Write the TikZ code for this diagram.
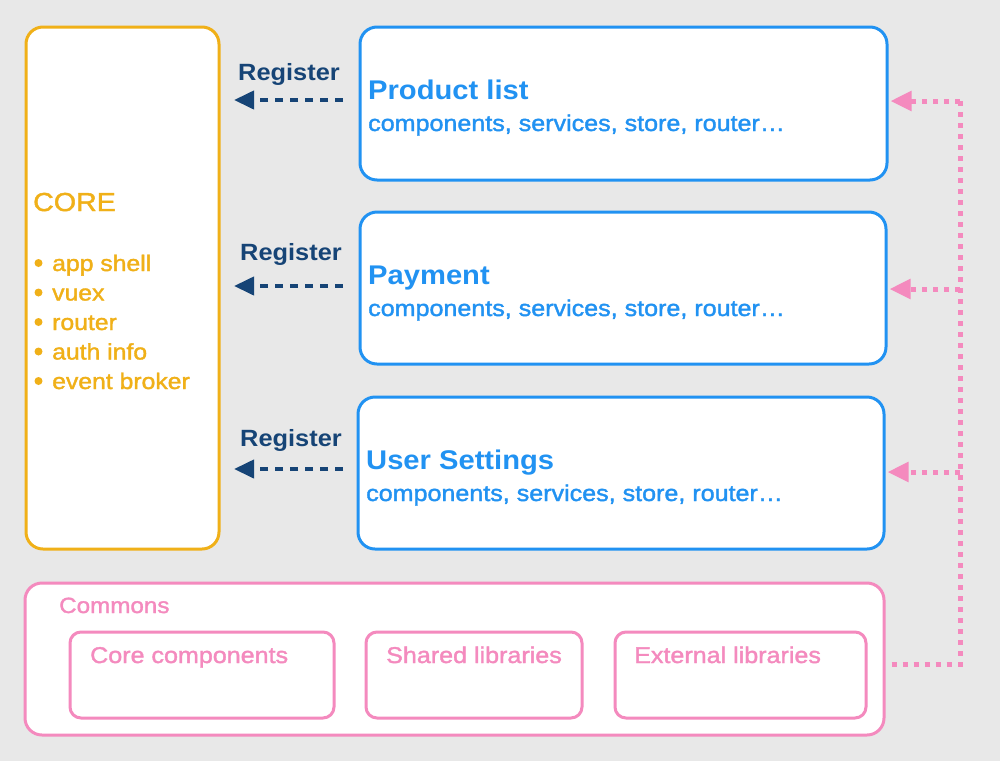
\documentclass[tikz,border=0pt]{standalone}
\usepackage{fontspec}
\setmainfont{Liberation Sans}
\newfontfamily\hf[FakeStretch=1.08]{Liberation Sans}
\newfontfamily\mf[FakeStretch=1.1,FakeBold=1.6]{Liberation Sans}
\usetikzlibrary{arrows.meta}
\definecolor{bg}{RGB}{232,232,232}
\definecolor{coreor}{RGB}{240,176,24}
\definecolor{modblue}{RGB}{33,146,242}
\definecolor{navy}{RGB}{22,68,118}
\definecolor{pinkc}{RGB}{244,138,190}
\newcommand{\fs}[1]{\fontsize{#1}{#1}\selectfont}
\tikzset{
  box/.style={draw, line width=3pt, fill=white, rounded corners=17pt, inner sep=0pt},
  corebox/.style={box, draw=coreor},
  modbox/.style={box, draw=modblue, minimum width=526pt, minimum height=152pt},
  combox/.style={box, draw=pinkc},
  libbox/.style={box, draw=pinkc, rounded corners=11pt, minimum height=86pt},
  ttl/.style={anchor=base west, inner sep=0pt, text=modblue, font=\hf\bfseries\fs{27}},
  sub/.style={anchor=base west, inner sep=0pt, text=modblue, font=\mf\fs{22.8}},
  reg/.style={anchor=base, inner sep=0pt, text=navy, font=\hf\bfseries\fs{23.5}},
  regarrow/.style={navy, line width=4pt, dash pattern=on 8pt off 7pt, -{Triangle[length=20pt,width=18pt]}},
  corelbl/.style={anchor=base west, inner sep=0pt, text=coreor, font=\mf\fs{22.5}},
  pinklbl/.style={anchor=base west, inner sep=0pt, text=pinkc, font=\mf\fs{22.8}},
  dotline/.style={pinkc, line width=5pt, dash pattern=on 5pt off 6pt},
  dotarrow/.style={dotline, -{Triangle[length=21pt,width=19pt]}},
}
\begin{document}
\begin{tikzpicture}[x=1pt,y=-1pt]
\fill[bg] (0,0) rectangle (1000,761);
\useasboundingbox (0,0) rectangle (1000,761);

% core
\node[corebox, minimum width=193pt, minimum height=522pt] (core) at (122.5,288) {};
\node[corelbl, font=\mf\fs{26}] (coret) at (33,211) {CORE};
\foreach \t [count=\i] in {app shell, vuex, router, auth info, event broker}{
  \fill[coreor] (38.5,{271-8+29.5*(\i-1)}) circle (4pt);
  \node[corelbl] (cb\i) at (52,{271+29.5*(\i-1)}) {\t};
}

% modules
\node[modbox, minimum width=527pt, minimum height=153pt] (prod) at (623.5,103.5) {};
\node[ttl] (prodt) at (368,99) {Product list};
\node[sub] (prods) at (368,131) {components, services, store, router…};

\node[modbox] (pay) at (623,288) {};
\node[ttl] (payt) at (368,284) {Payment};
\node[sub] (pays) at (368,316) {components, services, store, router…};

\node[modbox] (user) at (621,473) {};
\node[ttl] (usert) at (366,469) {User Settings};
\node[sub] (users) at (366,501) {components, services, store, router…};

% register arrows
\node[reg] (r1) at (289,80) {Register};
\node[reg] (r2) at (291,260) {Register};
\node[reg] (r3) at (291,446) {Register};
\coordinate (a1s) at (343,100); \coordinate (a1e) at (234,100);
\coordinate (a2s) at (343,286); \coordinate (a2e) at (234,286);
\coordinate (a3s) at (343,469); \coordinate (a3e) at (234,469);
\draw[regarrow] (a1s) -- (a1e);
\draw[regarrow] (a2s) -- (a2e);
\draw[regarrow] (a3s) -- (a3e);

% commons
\node[combox, minimum width=859pt, minimum height=152pt] (com) at (454.5,659) {};
\node[pinklbl, font=\mf\fs{22}] (comt) at (59,613) {Commons};
\node[libbox, minimum width=264pt] (lib1) at (202,675) {};
\node[libbox, minimum width=216pt] (lib2) at (474,675) {};
\node[libbox, minimum width=251pt] (lib3) at (740.5,675) {};
\node[pinklbl] (lib1t) at (90,663) {Core components};
\node[pinklbl] (lib2t) at (386,663) {Shared libraries};
\node[pinklbl] (lib3t) at (634,663) {External libraries};

% dotted connectors
\coordinate (dc) at (960,664);
\coordinate (ds) at ([xshift=6pt]com.east |- dc);
\coordinate (d1) at (960,101);
\coordinate (d2) at (960,289);
\coordinate (d3) at (960,472);
\draw[dotline] (ds) -- (dc) -- (d1);
\draw[dotarrow] (d1) -- ([xshift=2pt]prod.east |- d1);
\draw[dotarrow] (d2) -- ([xshift=2pt]pay.east |- d2);
\draw[dotarrow] (d3) -- ([xshift=2pt]user.east |- d3);
\end{tikzpicture}
\end{document}
